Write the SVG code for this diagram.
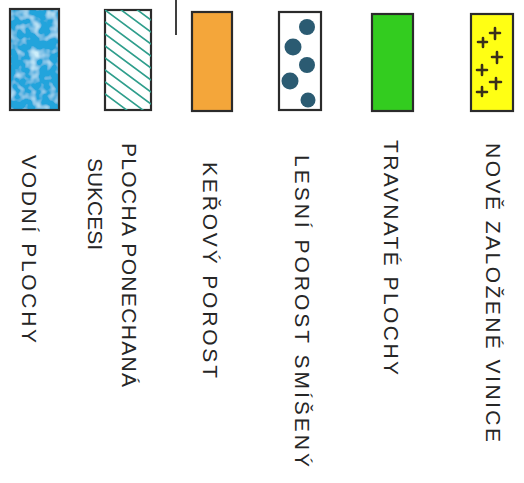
<svg xmlns="http://www.w3.org/2000/svg" width="524" height="483" viewBox="0 0 524 483">
  <style>
    .box { stroke: #2b2b2b; stroke-width: 2.2; }
    .lbl { font-family: "Liberation Sans", "DejaVu Sans", sans-serif; font-size: 21px; fill: #262626; }
    .hatch { stroke: #2f9e8c; stroke-width: 1.6; fill: none; stroke-linecap: round; }
    .dot { fill: #2b5b72; }
    .cross { stroke: #3a2f1a; stroke-width: 2.6; stroke-linecap: round; fill: none; }
  </style>
  <defs>
    <filter id="mottle" x="0" y="0" width="100%" height="100%">
      <feTurbulence type="fractalNoise" baseFrequency="0.1" numOctaves="2" seed="3" result="n"/>
      <feColorMatrix in="n" type="matrix" values="0 0 0 0 0.62  0 0 0 0 0.86  0 0 0 0 0.96  0 0 0 -2.4 1.3" result="spots"/>
      <feComposite in="spots" in2="SourceGraphic" operator="in" result="s"/>
      <feMerge><feMergeNode in="SourceGraphic"/><feMergeNode in="s"/></feMerge>
    </filter>
    <clipPath id="hclip"><rect x="105" y="10" width="46" height="100"/></clipPath>
  </defs>
  <rect width="524" height="483" fill="#ffffff"/>
  <line x1="176" y1="0" x2="176" y2="35" stroke="#2b2b2b" stroke-width="1.8"/>

  <g id="vodni-plochy">
    <rect x="10" y="9" width="49" height="101" fill="#24a4dc" filter="url(#mottle)"/>
    <rect class="box" x="10" y="9" width="49" height="101" fill="none"/>
    <text class="lbl" transform="translate(22,155) rotate(90)" textLength="188" lengthAdjust="spacing">VODNÍ PLOCHY</text>
  </g>

  <g id="plocha-ponechana-sukcesi">
    <rect class="box" x="105" y="10" width="46" height="100" fill="#ffffff"/>
    <g clip-path="url(#hclip)">
      <path class="hatch" d="M105,-14 L151,20 M105,-2 L151,32 M105,10 L151,44 M105,22 L151,56 M105,34 L151,68 M105,46 L151,80 M105,58 L151,92 M105,70 L151,104 M105,82 L151,116 M105,94 L151,128"/>
    </g>
    <text class="lbl" transform="translate(122,143) rotate(90)" textLength="244" lengthAdjust="spacing">PLOCHA PONECHANÁ</text>
    <text class="lbl" transform="translate(88,158) rotate(90)" textLength="92" lengthAdjust="spacing">SUKCESI</text>
  </g>

  <g id="kerovy-porost">
    <rect class="box" x="192" y="12" width="40" height="99" fill="#f4a63a"/>
    <text class="lbl" transform="translate(203,162) rotate(90)" textLength="216" lengthAdjust="spacing">KEŘOVÝ POROST</text>
  </g>

  <g id="lesni-porost-smiseny">
    <rect class="box" x="279" y="12" width="42" height="98" fill="#ffffff"/>
    <circle class="dot" cx="307" cy="27" r="8"/>
    <circle class="dot" cx="293" cy="47" r="8.5"/>
    <circle class="dot" cx="307" cy="65" r="8"/>
    <circle class="dot" cx="290" cy="81" r="8.5"/>
    <circle class="dot" cx="308" cy="100" r="7.5"/>
    <text class="lbl" transform="translate(295,155) rotate(90)" textLength="312" lengthAdjust="spacing">LESNÍ POROST SMÍŠENÝ</text>
  </g>

  <g id="travnate-plochy">
    <rect class="box" x="372" y="14" width="41" height="97" fill="#33cc1f"/>
    <text class="lbl" transform="translate(384,140) rotate(90)" textLength="235" lengthAdjust="spacing">TRAVNATÉ PLOCHY</text>
  </g>

  <g id="nove-zalozene-vinice">
    <rect class="box" x="471" y="14" width="42" height="97" fill="#ffff14"/>
    <path class="cross" d="M490,33 h10 M495,28 v11 M478,42 h9 M483,38 v9 M492,57 h10 M497,52 v11 M477,70 h10 M482,65 v10 M490,82 h11 M496,78 v11 M477,92 h10 M482,87 v9"/>
    <text class="lbl" transform="translate(486,143) rotate(90)" textLength="299" lengthAdjust="spacing">NOVĚ ZALOŽENÉ VINICE</text>
  </g>
</svg>
